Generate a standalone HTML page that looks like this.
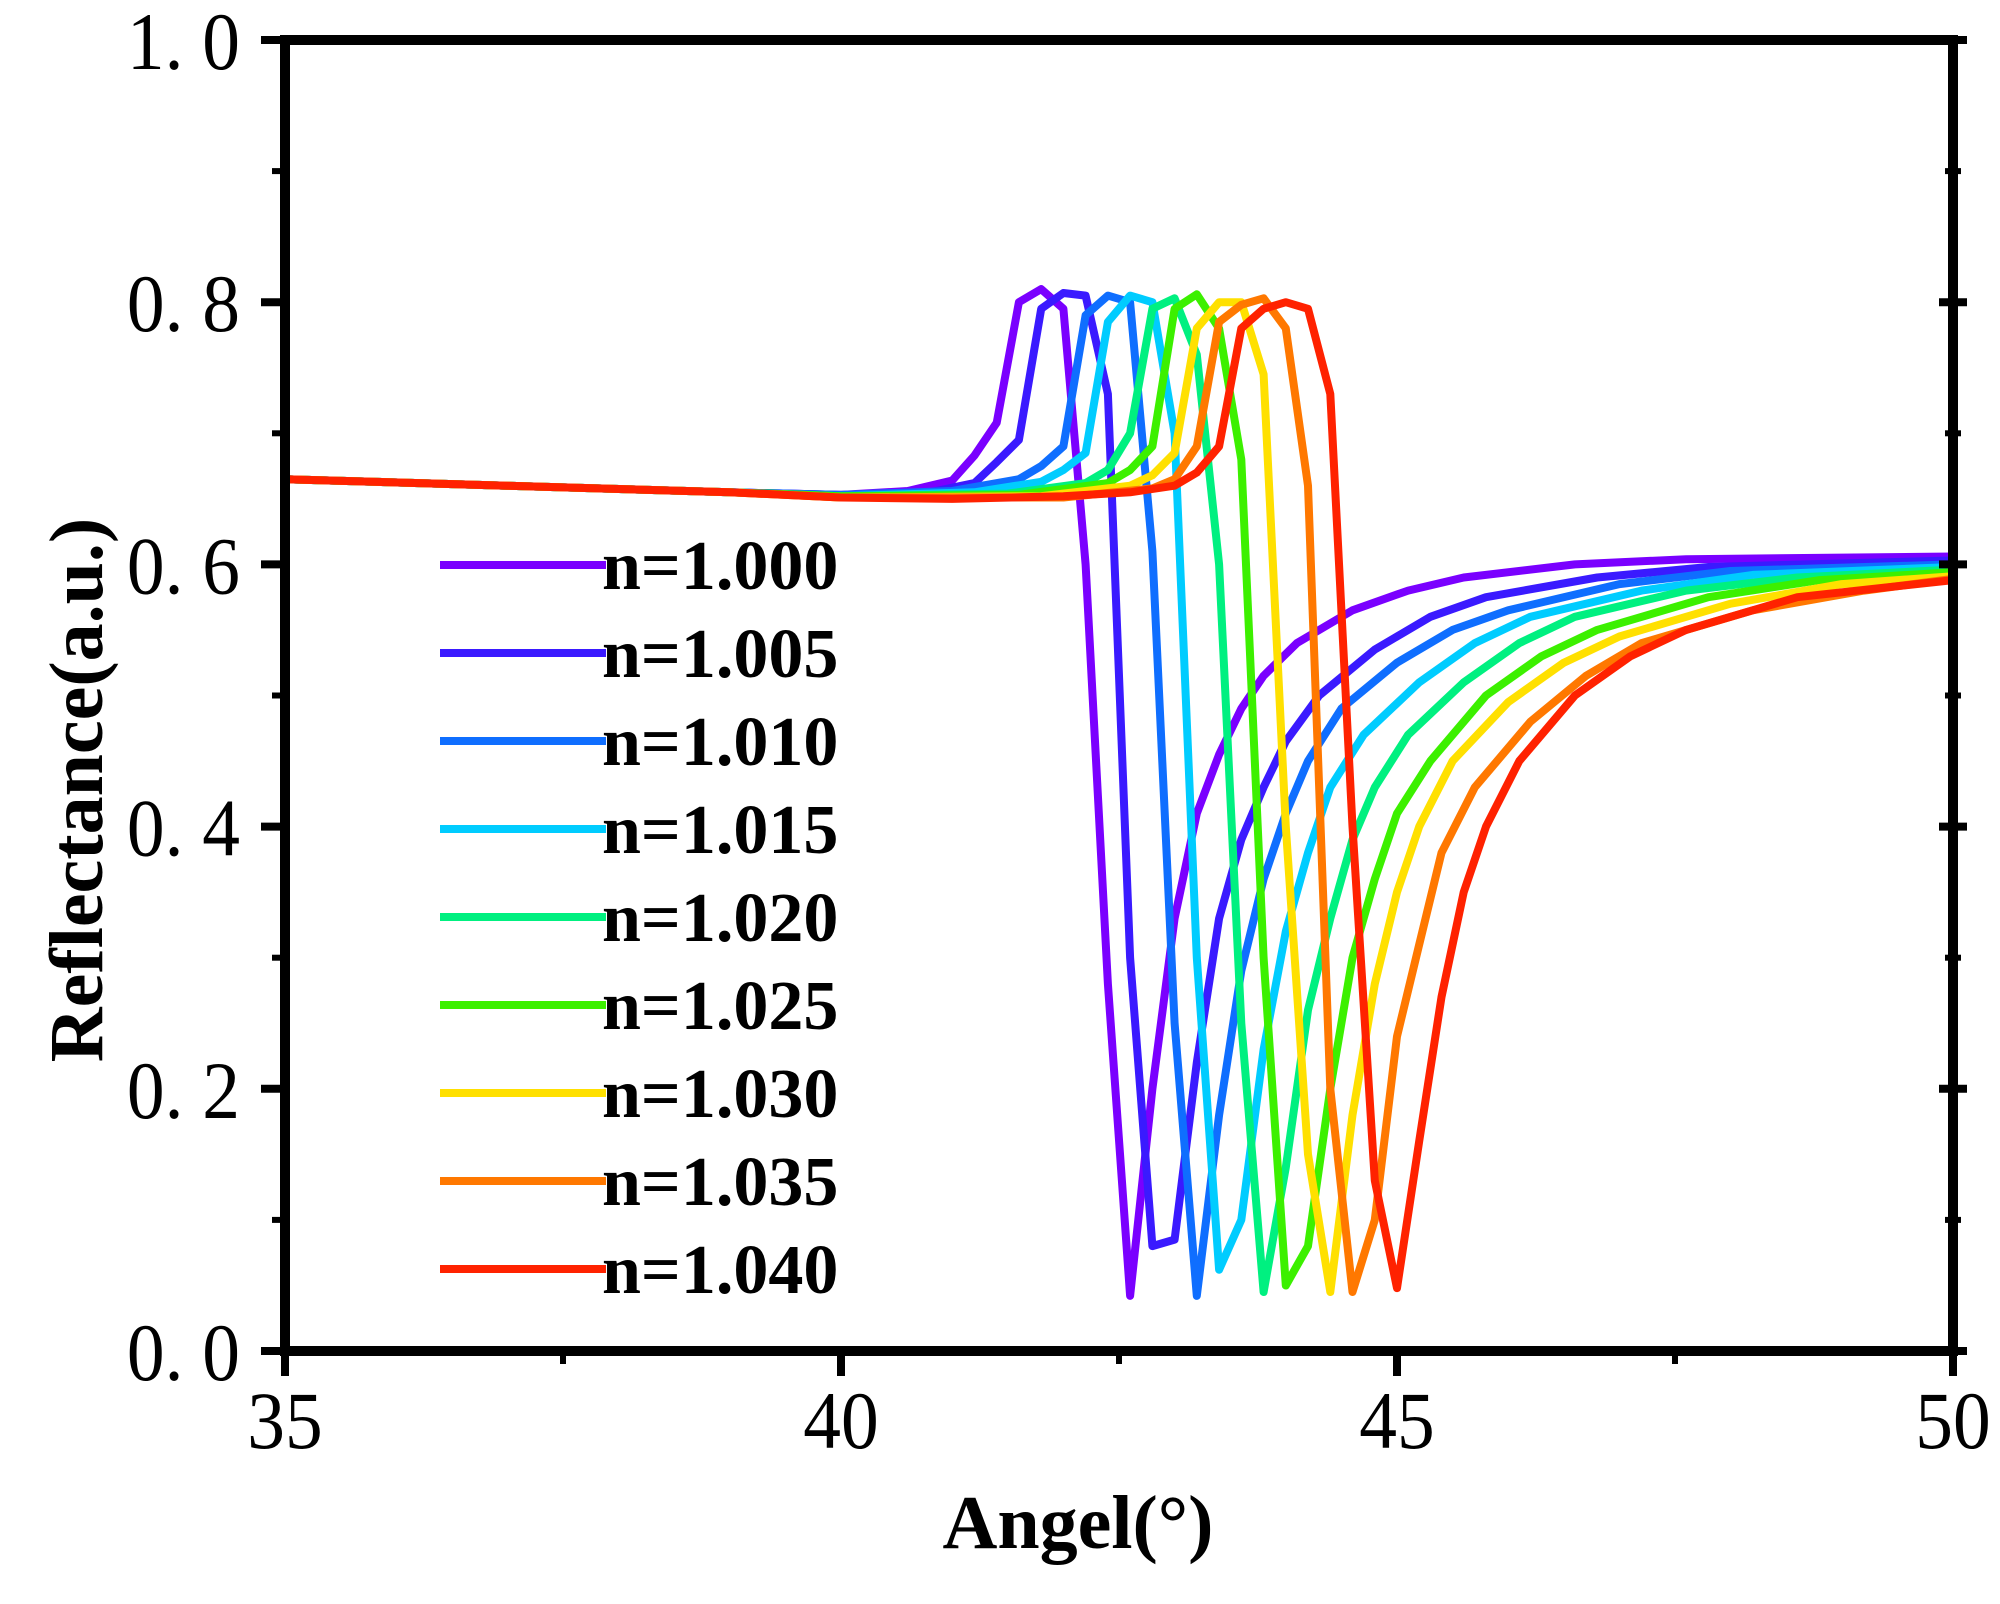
<!DOCTYPE html>
<html><head><meta charset="utf-8"><style>
html,body{margin:0;padding:0;background:#fff;}
svg{display:block;}
.tk{font-family:"Liberation Serif",serif;font-size:82px;fill:#000;}
.ttl{font-family:"Liberation Serif",serif;font-size:76px;font-weight:bold;fill:#000;}
.lg{font-family:"Liberation Serif",serif;font-size:70px;font-weight:bold;fill:#000;}
</style></head><body>
<svg id="chart" width="2000" height="1604" viewBox="0 0 2000 1604" xmlns="http://www.w3.org/2000/svg">
<g id="plot"></g>
<g id="axes"></g>
<g id="legend"></g>
<text class="ttl" x="1078" y="1548" text-anchor="middle">Angel(°)</text>
<text class="ttl" transform="translate(102,790) rotate(-90)" text-anchor="middle">Reflectance(a.u.)</text>
</svg>
<script>
const seriesNames = ["n=1.000","n=1.005","n=1.010","n=1.015","n=1.020","n=1.025","n=1.030","n=1.035","n=1.040"];
const seriesColors = ["#7a00ff","#3a1aff","#0f6eff","#00ccff","#00f080","#3cf000","#ffe000","#ff7800","#ff2200"];
const xTicks = [35,40,45,50];
const yTicks = [0,0.2,0.4,0.6,0.8,1.0];
const yTickLabels = ["0. 0","0. 2","0. 4","0. 6","0. 8","1. 0"];
const x0 = [35,37,39,40,40.6,41.0,41.2,41.4,41.6,41.8,42.0,42.2,42.4,42.6,42.8,43.0,43.2,43.4,43.6,43.8,44.1,44.6,45.1,45.6,46.6,47.6,50];
const y0 = [.665,.660,.655,.653,.656,.664,.683,.708,.800,.810,.795,.60,.28,.042,.20,.33,.41,.455,.49,.515,.54,.565,.58,.59,.60,.604,.606];
const x1 = [35,37,39,40,40.8,41.2,41.4,41.6,41.8,42.0,42.2,42.4,42.6,42.8,43.0,43.2,43.4,43.6,43.8,44.0,44.3,44.8,45.3,45.8,46.8,47.8,50];
const y1 = [.665,.660,.655,.653,.655,.662,.678,.695,.795,.807,.805,.73,.30,.08,.085,.22,.33,.39,.43,.465,.50,.535,.56,.575,.59,.598,.603];
const x2 = [35,37,39,40,41.0,41.6,41.8,42.0,42.2,42.4,42.6,42.8,43.0,43.2,43.4,43.6,43.8,44.0,44.2,44.5,45.0,45.5,46.0,47.0,48.0,50];
const y2 = [.665,.660,.655,.653,.656,.665,.675,.69,.79,.805,.80,.61,.25,.042,.18,.29,.36,.41,.45,.49,.525,.55,.565,.585,.595,.600];
const x3 = [35,37,39,40,41.2,41.8,42.0,42.2,42.4,42.6,42.8,43.0,43.2,43.4,43.6,43.8,44.0,44.2,44.4,44.7,45.2,45.7,46.2,47.2,48.2,50];
const y3 = [.665,.660,.655,.652,.655,.663,.672,.685,.785,.805,.80,.70,.30,.062,.10,.23,.32,.38,.43,.47,.51,.54,.56,.58,.592,.598];
const x4 = [35,37,39,40,41.5,42.2,42.4,42.6,42.8,43.0,43.2,43.4,43.6,43.8,44.0,44.2,44.4,44.6,44.8,45.1,45.6,46.1,46.6,47.6,48.6,50];
const y4 = [.665,.660,.655,.652,.654,.662,.672,.70,.795,.803,.76,.60,.25,.045,.14,.26,.33,.39,.43,.47,.51,.54,.56,.58,.59,.596];
const x5 = [35,37,39,40,41.6,42.4,42.6,42.8,43.0,43.2,43.4,43.6,43.8,44.0,44.2,44.4,44.6,44.8,45.0,45.3,45.8,46.3,46.8,47.8,48.8,50];
const y5 = [.665,.660,.655,.652,.653,.662,.672,.69,.795,.806,.78,.68,.30,.05,.08,.20,.30,.36,.41,.45,.50,.53,.55,.575,.588,.594];
const x6 = [35,37,39,40,41.8,42.6,42.8,43.0,43.2,43.4,43.6,43.8,44.0,44.2,44.4,44.6,44.8,45.0,45.2,45.5,46.0,46.5,47.0,48.0,49.0,50];
const y6 = [.665,.660,.655,.651,.652,.660,.668,.685,.78,.80,.80,.745,.40,.15,.045,.18,.28,.35,.40,.45,.495,.525,.545,.57,.585,.591];
const x7 = [35,37,39,40,42.0,42.8,43.0,43.2,43.4,43.6,43.8,44.0,44.2,44.4,44.6,44.8,45.0,45.2,45.4,45.7,46.2,46.7,47.2,48.2,49.2,50];
const y7 = [.665,.660,.655,.651,.651,.658,.665,.69,.785,.798,.803,.78,.66,.20,.045,.10,.24,.31,.38,.43,.48,.515,.54,.565,.58,.589];
const x8 = [35,37,39,40,41,42,42.6,43.0,43.2,43.4,43.6,43.8,44.0,44.2,44.4,44.6,44.8,45.0,45.2,45.4,45.6,45.8,46.1,46.6,47.1,47.6,48.6,50];
const y8 = [.665,.660,.655,.651,.650,.652,.655,.66,.67,.69,.78,.795,.80,.795,.73,.40,.13,.048,.16,.27,.35,.40,.45,.50,.53,.55,.575,.588];
const seriesX = [x0,x1,x2,x3,x4,x5,x6,x7,x8];
const seriesY = [y0,y1,y2,y3,y4,y5,y6,y7,y8];

const L=285,R=1953,T=40,B=1351;
const NS="http://www.w3.org/2000/svg";
function sx(v){return L+(v-35)/(50-35)*(R-L);}
function sy(v){return B-(v-0)/(1-0)*(B-T);}
function mk(tag,attrs,parent){const e=document.createElementNS(NS,tag);for(const k in attrs)e.setAttribute(k,attrs[k]);parent.appendChild(e);return e;}
const plot=document.getElementById('plot'),axes=document.getElementById('axes'),legend=document.getElementById('legend');

for(let i=0;i<seriesNames.length;i++){
  const pts=seriesX[i].map((x,j)=>sx(x).toFixed(1)+','+sy(seriesY[i][j]).toFixed(1)).join(' ');
  const pl=mk('polyline',{points:pts,fill:'none',stroke:seriesColors[i],'stroke-width':8,'stroke-linejoin':'round'},plot);
  
  
}
const fr=mk('rect',{x:L,y:T,width:R-L,height:B-T,fill:'none',stroke:'#000','stroke-width':10},axes);


for(let i=0;i<yTicks.length;i++){
  const y=sy(yTicks[i]);
  const t=mk('line',{x1:L-24,x2:L,y1:y,y2:y,stroke:'#000','stroke-width':8},axes);
  
  
  const t2=mk('line',{x1:R-14,x2:R+14,y1:y,y2:y,stroke:'#000','stroke-width':8},axes);
  
  
  const lb=mk('text',{transform:'translate('+(L-45)+','+(y+29)+') scale(0.92,1)','text-anchor':'end',class:'tk'},axes);
  lb.textContent=yTickLabels[i];
  
  
  if(i<yTicks.length-1){
    const ym=sy((yTicks[i]+yTicks[i+1])/2);
    const m=mk('line',{x1:L-13,x2:L,y1:ym,y2:ym,stroke:'#000','stroke-width':6},axes);
    
    
    const m2=mk('line',{x1:R-8,x2:R+8,y1:ym,y2:ym,stroke:'#000','stroke-width':6},axes);
    
    
  }
}
for(let i=0;i<xTicks.length;i++){
  const x=sx(xTicks[i]);
  const t=mk('line',{x1:x,x2:x,y1:B,y2:B+25,stroke:'#000','stroke-width':8},axes);
  
  
  const lb=mk('text',{transform:'translate('+x+',1448) scale(0.92,1)','text-anchor':'middle',class:'tk'},axes);
  lb.textContent=String(xTicks[i]);
  
  
  if(i<xTicks.length-1){
    const xm=sx((xTicks[i]+xTicks[i+1])/2);
    const m=mk('line',{x1:xm,x2:xm,y1:B,y2:B+13,stroke:'#000','stroke-width':6},axes);
    
    
  }
}
for(let i=0;i<seriesNames.length;i++){
  const y=565+i*88;
  const g=mk('g',{},legend);
  
  
  mk('line',{x1:440,x2:606,y1:y,y2:y,stroke:seriesColors[i],'stroke-width':8},g);
  const tx=mk('text',{x:602,y:y+24,class:'lg'},g);
  tx.textContent=seriesNames[i];
}
</script>
</body></html>
